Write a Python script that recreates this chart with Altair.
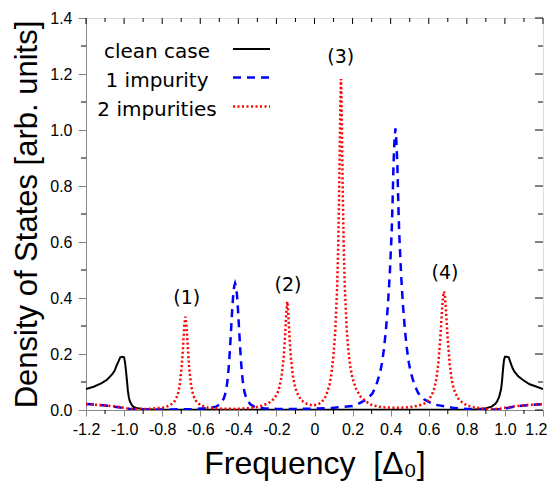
import altair as alt
import pandas as pd

# ---------------- data ----------------
clean_x = [-1.2, -1.16, -1.12, -1.09, -1.074, -1.06, -1.05, -1.04, -1.03, -1.02, -1.01, -1.0,
           -0.995, -0.99, -0.985, -0.98, -0.975, -0.97, -0.96, -0.95, -0.93, -0.9, -0.85, -0.8,
           -0.6, 0.0, 0.6, 0.8, 0.85, 0.9, 0.93, 0.95, 0.96, 0.97, 0.98, 0.985, 0.99, 0.995,
           1.0, 1.01, 1.02, 1.03, 1.04, 1.05, 1.07, 1.095, 1.13, 1.16, 1.2]
clean_y = [0.075, 0.083, 0.095, 0.108, 0.119, 0.13, 0.14, 0.158, 0.173, 0.188, 0.19, 0.188,
           0.17, 0.14, 0.105, 0.068, 0.045, 0.032, 0.018, 0.011, 0.006, 0.004, 0.002, 0.001,
           0.001, 0.001, 0.001, 0.001, 0.003, 0.006, 0.012, 0.022, 0.032, 0.048, 0.075, 0.105, 0.145, 0.178,
           0.19, 0.19, 0.188, 0.168, 0.15, 0.137, 0.12, 0.107, 0.092, 0.085, 0.075]

one_x = [-1.2, -1.15, -1.1, -1.05, -1.0, -0.97, -0.93, -0.85, -0.75, -0.65, -0.567, -0.517,
         -0.497, -0.477, -0.467, -0.462, -0.457, -0.452, -0.447, -0.442, -0.437, -0.432, -0.427,
         -0.422, -0.417, -0.412, -0.407, -0.402, -0.397, -0.392, -0.387, -0.382, -0.377, -0.372,
         -0.367, -0.357, -0.337, -0.317, -0.267, -0.2, -0.1, 0.0, 0.1, 0.2, 0.225, 0.275, 0.305,
         0.325, 0.345, 0.355, 0.365, 0.375, 0.385, 0.395, 0.4, 0.405, 0.41, 0.415, 0.42, 0.425,
         0.43, 0.435, 0.44, 0.445, 0.45, 0.455, 0.465, 0.475, 0.485, 0.495, 0.505, 0.525, 0.545,
         0.575, 0.625, 0.725, 0.8, 0.9, 0.95, 0.99, 1.02, 1.05, 1.1, 1.15, 1.2]
one_y = [0.021, 0.019, 0.016, 0.012, 0.007, 0.004, 0.002, 0.002, 0.002, 0.003, 0.006, 0.012,
         0.02, 0.04, 0.062, 0.08, 0.105, 0.14, 0.185, 0.24, 0.30, 0.36, 0.41,
         0.44, 0.452, 0.44, 0.41, 0.36, 0.30, 0.24, 0.185, 0.14, 0.105, 0.08,
         0.062, 0.04, 0.02, 0.012, 0.006, 0.004, 0.004, 0.005, 0.008, 0.014, 0.02, 0.038, 0.06,
         0.09, 0.135, 0.17, 0.22, 0.285, 0.37, 0.48, 0.555, 0.63, 0.74, 0.88, 0.96, 1.006,
         0.96, 0.88, 0.74, 0.63, 0.555, 0.48, 0.37, 0.285, 0.22, 0.17, 0.135, 0.09, 0.06,
         0.038, 0.02, 0.008, 0.004, 0.002, 0.002, 0.003, 0.008, 0.012, 0.016, 0.019, 0.021]

two_x = [-1.2, -1.15, -1.1, -1.05, -1.0, -0.98, -0.95, -0.878, -0.798, -0.758, -0.738, -0.728,
         -0.718, -0.708, -0.698, -0.693, -0.688, -0.683, -0.678, -0.673, -0.668, -0.663, -0.658,
         -0.648, -0.638, -0.628, -0.618, -0.598, -0.558, -0.5, -0.42, -0.35, -0.29, -0.243,
         -0.223, -0.203, -0.193, -0.183, -0.173, -0.163, -0.159, -0.155, -0.151, -0.147, -0.143,
         -0.139, -0.135, -0.131, -0.127, -0.123, -0.113, -0.103, -0.093, -0.07, -0.04, -0.01,
         0.02, 0.04, 0.06, 0.079, 0.089, 0.099, 0.109, 0.119, 0.125, 0.129, 0.133, 0.136, 0.139,
         0.142, 0.145, 0.149, 0.153, 0.159, 0.169, 0.179, 0.189, 0.199, 0.219, 0.239, 0.27, 0.3,
         0.35, 0.4, 0.45, 0.5, 0.55, 0.58, 0.6, 0.62, 0.63, 0.64, 0.65, 0.66, 0.665, 0.67, 0.675,
         0.68, 0.685, 0.69, 0.695, 0.7, 0.71, 0.72, 0.73, 0.74, 0.76, 0.8, 0.85, 0.9, 0.95, 0.98,
         1.0, 1.05, 1.1, 1.15, 1.2]
two_y = [0.021, 0.019, 0.016, 0.013, 0.008, 0.005, 0.004, 0.004, 0.008, 0.017, 0.028, 0.039,
         0.055, 0.088, 0.149, 0.197, 0.254, 0.309, 0.333, 0.309, 0.254, 0.197, 0.149,
         0.088, 0.055, 0.039, 0.028, 0.017, 0.008, 0.005, 0.004, 0.006, 0.012, 0.024,
         0.033, 0.05, 0.063, 0.085, 0.12, 0.18, 0.215, 0.26, 0.31, 0.36, 0.387,
         0.36, 0.31, 0.26, 0.215, 0.18, 0.12, 0.085, 0.063, 0.035, 0.022, 0.016,
         0.02, 0.03, 0.05, 0.09, 0.13, 0.19, 0.28, 0.44, 0.60, 0.76, 0.95, 1.10, 1.182,
         1.10, 0.95, 0.76, 0.60, 0.44, 0.29, 0.205, 0.15, 0.115, 0.075, 0.05, 0.03, 0.018,
         0.01, 0.008, 0.008, 0.01, 0.016, 0.024, 0.035, 0.06, 0.079, 0.11, 0.165, 0.25, 0.304, 0.36, 0.405,
         0.423, 0.405, 0.36, 0.304, 0.25, 0.165, 0.11, 0.079, 0.06, 0.035, 0.016, 0.008, 0.004, 0.004, 0.005,
         0.008, 0.013, 0.017, 0.019, 0.021]

series_names = ["clean case", "1 impurity", "2 impurities"]
peak_labels = ["(1)", "(2)", "(3)", "(4)"]
peak_label_x = [-0.671, -0.139, 0.138, 0.685]
peak_label_y = [0.40, 0.446, 1.262, 0.489]

x_major = [-1.2, -1.0, -0.8, -0.6, -0.4, -0.2, 0.0, 0.2, 0.4, 0.6, 0.8, 1.0, 1.2]
x_minor = [-1.1, -0.9, -0.7, -0.5, -0.3, -0.1, 0.1, 0.3, 0.5, 0.7, 0.9, 1.1]
y_major = [0.0, 0.2, 0.4, 0.6, 0.8, 1.0, 1.2, 1.4]
y_minor = [0.1, 0.3, 0.5, 0.7, 0.9, 1.1, 1.3]

# ---------------- chart ----------------
W, H = 457, 392
FONT = "DejaVu Sans"
xs = alt.Scale(domain=[-1.2, 1.2], nice=False, zero=False)
ys = alt.Scale(domain=[0, 1.4], nice=False, zero=False)

label_expr = "datum.value == 0 ? '0' : replace(format(datum.value, '.1f'), '\u2212', '-')"

x_axis = alt.Axis(
    values=x_major, labelExpr=label_expr, tickSize=6, labelPadding=5,
    labelAlign={"condition": {"test": "datum.value > 1.15", "value": "right"}, "value": "center"},
    labelOffset={"condition": {"test": "datum.value > 1.15", "value": 4}, "value": 0},
    title="Frequency\u00a0\u00a0[\u0394\u2080]", titleFontSize=32, titleFontWeight="normal",
    titleBaseline="alphabetic", titleY=63,
    labelFontSize=16, grid=False, labelFlush=False)
y_axis = alt.Axis(
    values=y_major, format=".1f", tickSize=8, labelPadding=6,
    title="Density of States [arb. units]", titleFontSize=31, titleFontWeight="normal",
    titleBaseline="alphabetic", titleX=-50,
    labelFontSize=16, grid=False, labelFlush=False)


def X(field):
    return alt.X(field, scale=xs, axis=x_axis)


def Y(field):
    return alt.Y(field, scale=ys, axis=y_axis)


def curve(xv, yv, color, width, dash=None):
    df = pd.DataFrame({"f": xv, "d": yv})
    kw = dict(color=color, strokeWidth=width, clip=True)
    if dash:
        kw["strokeDash"] = dash
    return alt.Chart(df).mark_line(**kw).encode(x=X("f:Q"), y=Y("d:Q"))


black = curve(clean_x, clean_y, "black", 2)
blue = curve(one_x, one_y, "#0000ff", 2.5, dash=[8, 6])
red = curve(two_x, two_y, "#ff0000", 2.5, dash=[2, 2.5])


def xticks(vals, y0, y1):
    return alt.Chart(pd.DataFrame({"f": vals})).mark_rule(color="black", strokeWidth=1).encode(
        x=X("f:Q"), y=alt.value(y0), y2=alt.value(y1))


def yticks(vals, x0, x1):
    return alt.Chart(pd.DataFrame({"d": vals})).mark_rule(color="black", strokeWidth=1).encode(
        y=Y("d:Q"), x=alt.value(x0), x2=alt.value(x1))


ticks = [
    xticks(x_minor, H, H + 4),
    xticks(x_major, 0, 6),
    xticks(x_minor, 0, 4),
    yticks(y_minor, -5, 0),
    yticks(y_major, W - 8, W),
    yticks(y_minor, W - 5, W),
]

ann = alt.Chart(pd.DataFrame({"t": peak_labels, "f": peak_label_x, "d": peak_label_y})).mark_text(
    font=FONT, fontSize=19, color="black", baseline="middle", align="center").encode(
    x=X("f:Q"), y=Y("d:Q"), text="t:N")

legend_layers = []
leg_text_y = [39.5, 68.5, 97.5]
leg_line_y = [31, 59.5, 88.5]
leg_styles = [("black", 2, None), ("#0000ff", 2.5, [8, 6]), ("#ff0000", 2.5, [2, 2.5])]
for name, ty, ly, (c, w, d) in zip(series_names, leg_text_y, leg_line_y, leg_styles):
    legend_layers.append(
        alt.Chart(alt.Data(values=[{"t": name}])).mark_text(
            font=FONT, fontSize=20, color="black", align="center", baseline="alphabetic").encode(
            x=alt.value(71), y=alt.value(ty), text="t:N"))
    kw = dict(color=c, strokeWidth=w)
    if d:
        kw["strokeDash"] = d
    legend_layers.append(
        alt.Chart(alt.Data(values=[{"t": name}])).mark_rule(**kw).encode(
            x=alt.value(147), x2=alt.value(184), y=alt.value(ly)))

chart = alt.layer(black, blue, red, ann, *ticks, *legend_layers).properties(
    width=W, height=H,
    autosize=alt.AutoSizeParams(type="none"),
    padding={"left": 78, "top": 10, "right": 5, "bottom": 72},
).configure_view(stroke="black", strokeWidth=1.5).configure_axis(
    domainColor="black", domainWidth=1.5, tickColor="black", tickWidth=1,
    labelColor="black", titleColor="black", labelFont=FONT, titleFont=FONT,
).configure(background="white")

chart.save("out.html", embed_options={"renderer": "svg", "actions": False})
